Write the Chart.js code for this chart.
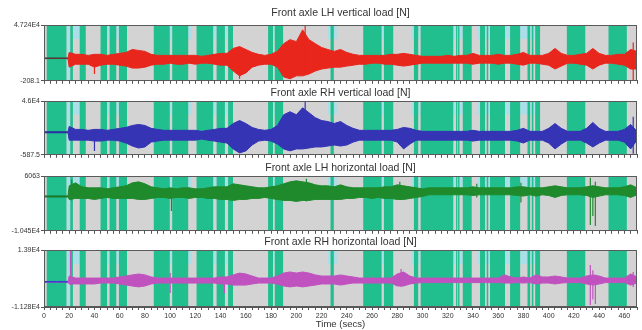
<!DOCTYPE html>
<html><head><meta charset="utf-8">
<script src="https://cdn.jsdelivr.net/npm/chart.js@4/dist/chart.umd.min.js"></script>
<style>
html,body{margin:0;padding:0;background:#fff;}
#wrap{position:relative;width:642px;height:330px;overflow:hidden;background:#fff;}
canvas{position:absolute;left:0;}
</style></head><body>
<div id="wrap">
<canvas id="c1" width="642" height="86" style="top:0px"></canvas>
<canvas id="c2" width="642" height="80" style="top:80px"></canvas>
<canvas id="c3" width="642" height="81" style="top:155px"></canvas>
<canvas id="c4" width="642" height="101" style="top:229px"></canvas>
</div>
<script>
// ---------- data ----------
const times = [0,10,19,20,25,30,35,40,45,50,55,60,65,70,75,80,85,90,95,100,105,110,115,120,125,130,135,140,145,150,155,160,165,170,175,180,185,190,195,200,205,210,215,220,225,230,235,240,245,250,255,260,265,270,275,280,285,290,295,300,305,310,315,320,325,330,335,340,345,350,355,360,365,370,375,380,385,390,395,400,405,410,415,420,425,430,435,440,445,450,455,460,465,470];

const titles = ["Front axle LH vertical load [N]","Front axle RH vertical load [N]","Front axle LH horizontal load [N]","Front axle RH horizontal load [N]"];
const yMins = [-208.1, -587.5, -10450, -11280];
const yMaxs = [47240, 46000, 6063, 13900];
const yTopLabels = ["4.724E4","4.6E4","6063","1.39E4"];
const yBottomLabels = ["-208.1","-587.5","-1.045E4","-1.128E4"];
const xTickLabelsEvery = 20;
const xAxisTitle = "Time (secs)";

const hi1 = [19200,19200,19200,
23900,22300,22300,21400,22300,22300,21400,22300,23100,23900,
26400,25600,24800,22300,21400,21400,21400,21400,21400,21400,
21400,20600,21400,22300,23100,23100,27300,28900,26400,23900,
22300,21400,22300,24800,31400,34800,33100,43100,34800,31400,
28100,26400,24800,26400,23900,22300,21400,21400,21400,21400,
21400,22300,22300,23100,22300,21400,20600,20600,20600,20600,
21400,20600,21400,21400,23100,21400,21400,21400,22300,21400,
21400,22300,23900,21400,21400,21400,23100,27300,23100,21400,
21400,22300,23100,27300,23100,21400,21400,22300,22300,26400,
24800];
const lo1 = [18700,18700,18700,
11400,13900,13900,13900,11400,13100,13900,13900,13100,12300,
10600,10600,11400,13100,13900,13900,14800,13900,13900,14800,
13900,14800,14800,13900,13100,13100,8100,4000,6500,11400,
13100,13900,13900,11400,3100,1500,4000,4000,5600,8100,
9800,10600,11400,11400,12300,13100,13900,13900,14800,14800,
13900,13900,13100,12300,13100,13900,14800,14800,14800,14800,
14800,14800,14800,14800,13900,14800,14800,14800,13900,14800,
14800,13900,13100,14800,14800,13900,13100,9800,12300,14800,
14800,13900,13100,9800,13100,14800,14800,13900,13100,9800,
9800];
const spikeT1 = [40,155,207,467];
const spikeHi1 = [21400,27300,46400,32300];
const spikeLo1 = [5600,1500,6500,0];

const hi2 = [19300,19300,19300,
24000,21400,21400,20600,21400,21400,20600,21400,22300,23100,
24800,25700,24800,22300,21400,20600,20600,20600,20600,20600,
20600,19700,20600,21400,22300,22300,26500,29100,26500,23100,
21400,20600,21400,24800,34100,36700,34100,40100,35800,31600,
29100,28200,26500,28200,24800,22300,20600,20600,20600,20600,
20600,20600,21400,23100,22300,20600,19700,19700,19700,19700,
19700,19700,19700,19700,20600,19700,19700,19700,19700,19700,
19700,20600,22300,19700,19700,19700,22300,26500,22300,19700,
19700,19700,22300,27400,22300,19700,19700,19700,21400,25700,
19700];
const lo2 = [18500,18500,18500,
12100,12100,12100,12100,11300,11300,12100,12100,11300,9600,
7000,5300,6200,10400,11300,12100,12100,12100,12100,12100,
12100,13000,12100,11300,10400,9600,4500,1000,2800,7900,
11300,12100,11300,8700,4500,2800,4500,4500,5300,6200,
6200,7000,7900,7000,7900,10400,12100,12100,12100,12100,
12100,12100,10400,4500,8700,12100,12100,12100,12100,12100,
12100,12100,12100,12100,11300,12100,12100,12100,12100,12100,
12100,11300,9600,12100,12100,12100,9600,4500,8700,12100,
12100,12100,9600,6200,9600,12100,12100,12100,10400,4500,
12100];
const spikeT2 = [40,207,467];
const spikeHi2 = [21400,46000,32400];
const spikeLo2 = [2800,5000,300];

const hi3 = [50,50,50,
3100,4000,2800,2500,2500,2500,2200,2500,2800,3100,
4000,4300,3700,2800,2500,2200,2500,2200,2500,2500,
2200,2200,2500,2800,2800,2800,3700,3400,3100,2800,
2500,2500,2800,3100,3700,4300,4600,4300,4000,3400,
3100,3100,2800,3400,2800,2500,2500,2500,2500,2500,
2800,2800,3400,3100,2800,2500,2200,2500,2500,2500,
2500,2500,2500,2500,2800,2500,2500,2500,2500,2500,
2500,2800,2800,2500,2500,2500,2800,3100,2800,2500,
2500,2500,2800,3100,2800,2500,2500,2500,2800,3400,
2500];
const lo3 = [-250,-250,-250,
-1000,-700,-700,-700,-1000,-700,-400,-700,-700,-700,
-700,-1000,-1000,-700,-400,-400,-700,-400,-400,-700,
-400,-400,-700,-700,-1000,-1000,-1300,-1000,-1000,-700,
-700,-400,-700,-1000,-1300,-1300,-1600,-1300,-1300,-1000,
-1000,-1000,-1000,-1000,-700,-700,-400,-400,-700,-400,
-700,-700,-1000,-1000,-700,-400,-100,400,400,400,
400,400,400,400,200,400,400,400,400,400,
400,200,0,400,0,400,200,-400,200,400,
400,400,200,-400,0,400,400,400,200,-400,
400];
const spikeT3 = [22,101,208,282,343,378,433,435,437];
const spikeHi3 = [4900,2200,5200,4300,3700,4000,5500,3100,4300];
const spikeLo3 = [-1300,-4500,-1600,-1000,-400,-1900,-8700,-6000,-9000];

const hi4 = [0,0,0,
2400,1500,1500,1500,1500,1500,1500,1500,2000,2400,
2900,3300,2900,2000,1500,1500,1500,1500,1500,1500,
1500,1500,1500,1500,2000,2000,2900,3700,3300,2400,
1500,1500,1500,2400,3700,4200,3700,4200,3700,2900,
2400,2400,2400,2900,2400,2000,1500,1500,1500,1500,
1500,1500,3300,4200,2400,1500,1500,1500,1500,1500,
1500,1500,1500,1500,1500,1500,1500,1500,1500,2900,
2000,1500,2000,1500,2900,2000,2000,2400,2000,1500,
1500,1500,2400,2900,2400,1500,1500,1500,1500,3300,
2000];
const lo4 = [-400,-400,-400,
-1100,-1100,-1100,-1100,-1100,-700,-700,-700,-1100,-1600,
-2000,-2400,-2000,-1100,-700,-700,-700,-700,-700,-700,
-700,-700,-700,-700,-1100,-1100,-1600,-1600,-1600,-1100,
-700,-700,-700,-1100,-2000,-2400,-2000,-2400,-2000,-1600,
-1100,-1100,-1100,-1600,-1100,-700,-700,-700,-700,-700,
-700,-700,-2000,-2000,-1100,-700,-500,-500,-500,-500,
-500,-500,-500,-500,-500,-500,-500,-500,-500,-700,
-700,-500,-700,-500,-1100,-700,-700,-1100,-700,-500,
-500,-500,-1100,-1600,-1100,-500,-500,-500,-500,-1600,
-700];
const spikeT4 = [21,100,143,283,433,435,437,467];
const spikeHi4 = [13900,3700,1500,5500,7300,5000,3000,4200];
const spikeLo4 = [-1600,-5100,-5100,-2400,-10400,-8000,-10000,-2400];

// test-condition background bands (secs)
const greenBands = [[2,17.8],[20.8,22.9],[28.3,33.1],[44.8,50],[52,57.3],[59.4,65.8],[87,99.7],[101.6,114.3],[120.9,134.1],[136.8,143.4],[145.9,149.8],[177.6,181.5],[182.9,189.5],[227.1,229.7],[253,267.6],[269.4,276.8],[293.2,296.6],[298.5,324.4],[326.6,327.6],[328.2,329.3],[331.9,339],[345.6,349.6],[350.9,352.1],[353.5,365.4],[369.4,377.4],[383.2,385.3],[386.6,387.9],[389.3,393.2],[414.4,429],[447.4,462]];
const cyanFull = [[17.8,20.8]];
const cyanTabs = [[22.9,28.3],[50,52],[57.3,59.4],[99.7,101.6],[114.3,117],[134.1,136.8],[143.4,145.9],[181.5,182.9],[225,232],[267.6,269.4],[291,293.2],[296.6,298.5],[324.4,331.9],[344,345.6],[349.6,353.5],[365.4,369.4],[377.4,389.3]];

// ---------- styling ----------
const signalColors = ['#e8261c','#3434b4','#1f8a2c','#c052c0'];
const startColors = ['#3a3a3a','#24249a','#176c20','#3a3ad8'];
const GREEN = '#22bf8e', GRAY = '#d3d3d3', CYAN = '#aadfe9';
const FONT = "'Liberation Sans', Arial, sans-serif";
Chart.defaults.font.family = FONT;

const hiArr = [hi1,hi2,hi3,hi4], loArr = [lo1,lo2,lo3,lo4];
const spT = [spikeT1,spikeT2,spikeT3,spikeT4], spH = [spikeHi1,spikeHi2,spikeHi3,spikeHi4], spL = [spikeLo1,spikeLo2,spikeLo3,spikeLo4];

function bandPoints(bands){
  const pts = [];
  bands.forEach(([s,e]) => { pts.push({x:s,y:0},{x:s,y:1},{x:e,y:1},{x:e,y:0}); });
  return pts;
}
function cyanPoints(){
  const all = cyanTabs.map(b=>({b, d:0.75})).concat(cyanFull.map(b=>({b,d:0}))).sort((a,c)=>a.b[0]-c.b[0]);
  const pts = [];
  all.forEach(({b,d}) => { pts.push({x:b[0],y:1},{x:b[0],y:d},{x:b[1],y:d},{x:b[1],y:1}); });
  return pts;
}

const framePlugin = {
  id:'frame',
  beforeDatasetsDraw(chart){
    const a = chart.chartArea, ctx = chart.ctx;
    ctx.save(); ctx.fillStyle = GRAY; ctx.fillRect(a.left, a.top, a.right-a.left, a.bottom-a.top); ctx.restore();
  },
  afterDatasetsDraw(chart){
    const a = chart.chartArea, ctx = chart.ctx;
    ctx.save(); ctx.strokeStyle = '#5a5a5a'; ctx.lineWidth = 1;
    ctx.strokeRect(Math.round(a.left)+0.5, Math.round(a.top)+0.5, Math.round(a.right-a.left)-1, Math.round(a.bottom-a.top)-1);
    ctx.restore();
  }
};

const titlePadTop = [6.7,6.7,6.7,6.7];
const titlePadBottom = [5.7,1.7,1.7,1.7];

function makePanel(i){
  const last = i === 3;
  const col = signalColors[i], sc = startColors[i];
  const hi = hiArr[i], lo = loArr[i];
  const spikes = [];
  spT[i].forEach((t,k) => { spikes.push({x:t,y:spH[i][k]},{x:t,y:spL[i][k]},{x:t,y:null}); });
  const seg = { borderColor: c => (c.p1.parsed.x <= 19 ? sc : undefined) };
  new Chart(document.getElementById('c'+(i+1)), {
    type:'line',
    data:{ datasets:[
      { label:'hi', data: times.map((t,k)=>({x:t,y:hi[k]})), yAxisID:'y', borderColor:col, backgroundColor:col, borderWidth:1, pointRadius:0, fill:'+1', order:1, segment:seg },
      { label:'lo', data: times.map((t,k)=>({x:t,y:lo[k]})), yAxisID:'y', borderColor:col, backgroundColor:col, borderWidth:1, pointRadius:0, fill:false, order:1, segment:seg },
      { label:'spikes', data: spikes, yAxisID:'y', borderColor:col, borderWidth:1.2, pointRadius:0, fill:false, spanGaps:false, order:0 },
      { label:'green', data: bandPoints(greenBands), yAxisID:'yb', borderColor:'rgba(0,0,0,0)', borderWidth:0, backgroundColor:GREEN, pointRadius:0, fill:'origin', order:3 },
      { label:'cyan', data: cyanPoints(), yAxisID:'yb', borderColor:'rgba(0,0,0,0)', borderWidth:0, backgroundColor:CYAN, pointRadius:0, fill:'end', order:4 }
    ]},
    options:{
      responsive:false, animation:false, events:[],
      layout:{ padding:{ left:0, right:5, top:0, bottom:0 } },
      plugins:{
        legend:{display:false}, tooltip:{enabled:false},
        title:{ display:true, text:titles[i], fullSize:false, color:'#333', font:{size:10.5, weight:'normal', family:FONT}, padding:{top:titlePadTop[i], bottom:titlePadBottom[i]} }
      },
      scales:{
        x:{ type:'linear', min:0, max:470,
          ticks:{ stepSize:5, autoSkip:false, maxRotation:0, minRotation:0, display:last, padding:2, color:'#333', font:{size:7},
                  callback: v => (v % xTickLabelsEvery === 0 ? String(v) : '') },
          grid:{ drawOnChartArea:false, drawTicks:true, tickLength:3, color:'#555' },
          border:{ display:true, color:'#555' },
          title:{ display:last, text:xAxisTitle, color:'#333', font:{size:9.5}, padding:{top:0,bottom:0} },
          afterFit: s => { s.height = last ? 23 : 4; }
        },
        y:{ type:'linear', min:yMins[i], max:yMaxs[i],
          afterBuildTicks: s => { s.ticks = [{value:yMins[i]},{value:yMaxs[i]}]; },
          ticks:{ autoSkip:false, padding:1, color:'#333', font:{size:7},
                  callback: v => (v === yMaxs[i] ? yTopLabels[i] : yBottomLabels[i]) },
          grid:{ drawOnChartArea:false, drawTicks:true, tickLength:3, color:'#555' },
          border:{ display:true, color:'#555' },
          afterFit: s => { s.width = 44; }
        },
        yb:{ type:'linear', min:0, max:1, display:false }
      }
    },
    plugins:[framePlugin]
  });
}
[0,1,2,3].forEach(makePanel);
</script>
</body></html>
